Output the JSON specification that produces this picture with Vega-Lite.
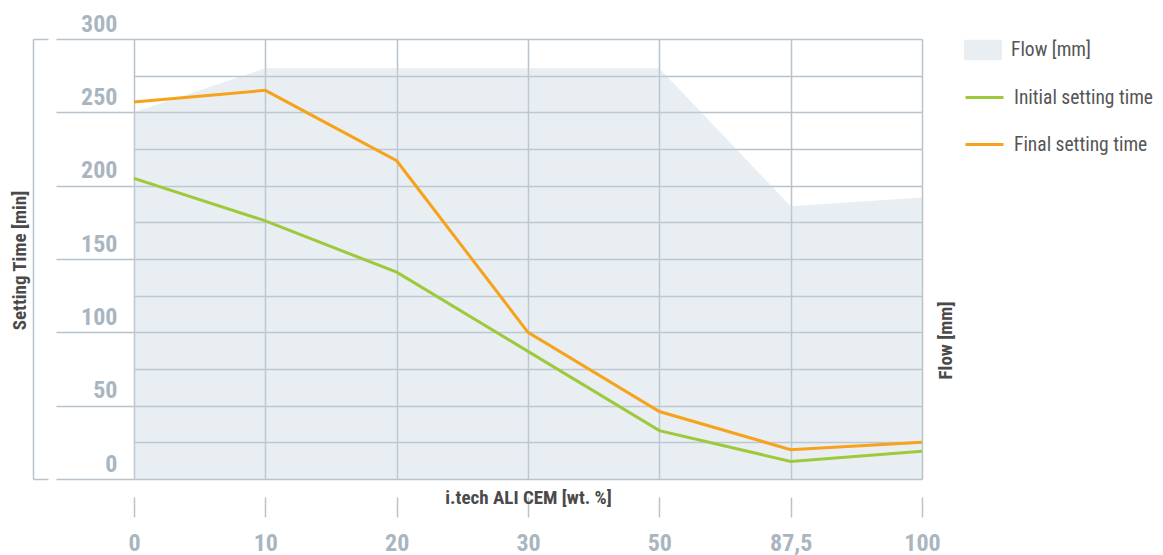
{
  "$schema": "https://vega.github.io/schema/vega-lite/v6.json",
  "width": 788,
  "height": 440,
  "autosize": {"type": "none"},
  "padding": {"left": 134, "top": 39, "right": 241, "bottom": 76},
  "background": "white",
  "config": {
    "view": {"stroke": null},
    "font": "Liberation Sans Narrow, Roboto Condensed, Roboto, sans-serif"
  },
  "data": {
    "values": [
      {"x": "0", "flow": 250, "initial": 205, "final": 257},
      {"x": "10", "flow": 280, "initial": 176, "final": 265},
      {"x": "20", "flow": 280, "initial": 141, "final": 217},
      {"x": "30", "flow": 280, "initial": 87, "final": 100},
      {"x": "50", "flow": 280, "initial": 33, "final": 46},
      {"x": "87,5", "flow": 186, "initial": 12, "final": 20},
      {"x": "100", "flow": 192, "initial": 19, "final": 25}
    ]
  },
  "encoding": {
    "x": {
      "field": "x",
      "type": "ordinal",
      "scale": {"type": "point", "padding": 0, "domain": ["0", "10", "20", "30", "50", "87,5", "100"]},
      "axis": {
        "title": "i.tech ALI CEM [wt. %]",
        "orient": "bottom",
        "offset": 18,
        "domain": false,
        "tickSize": 20,
        "tickColor": "#b8c3cb",
        "tickWidth": 1.5,
        "labelPadding": 14,
        "labelFontSize": 24,
        "labelFontWeight": "bold",
        "labelColor": "#a9b5bf",
        "labelAngle": 0,
        "grid": true,
        "gridColor": "#b8c3cb",
        "gridWidth": 1.5,
        "titleFontSize": 19,
        "titleFontWeight": "bold",
        "titleColor": "#4a4a4a",
        "titleX": 394,
        "titleY": 0,
        "titleAlign": "center",
        "titleBaseline": "middle"
      }
    }
  },
  "layer": [
    {
      "mark": {"type": "area", "opacity": 0.38, "interpolate": "linear"},
      "encoding": {
        "y": {
          "field": "flow",
          "type": "quantitative",
          "scale": {"domain": [0, 300], "nice": false},
          "axis": {
            "orient": "right",
            "domain": false,
            "ticks": false,
            "labels": false,
            "grid": false,
            "title": "Flow [mm]",
            "titleFontSize": 19,
            "titleFontWeight": "bold",
            "titleColor": "#4a4a4a",
            "titleAngle": 270,
            "titleX": 23,
            "titleY": 301,
            "titleAlign": "center",
            "titleBaseline": "middle"
          }
        },
        "fill": {
          "datum": "Flow [mm]",
          "type": "nominal",
          "scale": {"domain": ["Flow [mm]"], "range": ["#c5d2dc"]},
          "legend": {
            "title": null,
            "orient": "none",
            "legendX": 830,
            "legendY": -8,
            "padding": 0,
            "symbolType": "M-1,-0.54H1V0.54H-1Z",
            "symbolSize": 1444,
            "symbolStrokeWidth": 0,
            "labelOffset": 9,
            "labelFontSize": 19.5,
            "labelColor": "#555555",
            "labelFont": "Liberation Sans Narrow, Roboto Condensed, Roboto, sans-serif"
          }
        }
      }
    },
    {
      "mark": {"type": "line", "strokeWidth": 3},
      "encoding": {
        "y": {
          "field": "initial",
          "type": "quantitative",
          "scale": {"domain": [0, 300], "nice": false},
          "axis": {
            "orient": "left",
            "values": [0, 25, 50, 75, 100, 125, 150, 175, 200, 225, 250, 275, 300],
            "domain": false,
            "grid": true,
            "gridColor": "#b8c3cb",
            "gridWidth": 1.5,
            "tickSize": 78,
            "tickColor": "#b8c3cb",
            "tickWidth": 1.5,
            "tickOpacity": {"condition": {"test": "datum.value % 50 === 0", "value": 1}, "value": 0},
            "labelExpr": "datum.value % 50 === 0 ? datum.label : ''",
            "labelPadding": -61,
            "labelOffset": -15,
            "labelBaseline": "middle",
            "labelFontSize": 24,
            "labelFontWeight": "bold",
            "labelColor": "#a9b5bf",
            "title": null
          }
        },
        "stroke": {
          "datum": "Initial setting time",
          "type": "nominal",
          "scale": {"domain": ["Initial setting time", "Final setting time"], "range": ["#9dc93b", "#f7a21b"]},
          "legend": {
            "title": null,
            "orient": "none",
            "legendX": 830,
            "legendY": 38,
            "padding": 0,
            "rowPadding": 17,
            "symbolType": "stroke",
            "symbolSize": 1444,
            "symbolStrokeWidth": 3,
            "labelOffset": 9,
            "labelFontSize": 19.5,
            "labelColor": "#555555",
            "labelFont": "Liberation Sans Narrow, Roboto Condensed, Roboto, sans-serif"
          }
        }
      }
    },
    {
      "mark": {"type": "line", "strokeWidth": 3},
      "encoding": {
        "y": {
          "field": "final",
          "type": "quantitative",
          "scale": {"domain": [0, 300], "nice": false},
          "axis": {
            "orient": "left",
            "offset": 101,
            "values": [0, 300],
            "domain": true,
            "domainColor": "#b8c3cb",
            "domainWidth": 1.5,
            "tickSize": -15,
            "tickColor": "#b8c3cb",
            "tickWidth": 1.5,
            "labels": false,
            "grid": false,
            "title": "Setting Time [min]",
            "titleFontSize": 19,
            "titleFontWeight": "bold",
            "titleColor": "#4a4a4a",
            "titleAngle": 270,
            "titleX": -14,
            "titleY": 221,
            "titleAlign": "center",
            "titleBaseline": "middle"
          }
        },
        "stroke": {
          "datum": "Final setting time",
          "type": "nominal"
        }
      }
    }
  ],
  "resolve": {"axis": {"y": "independent"}}
}
